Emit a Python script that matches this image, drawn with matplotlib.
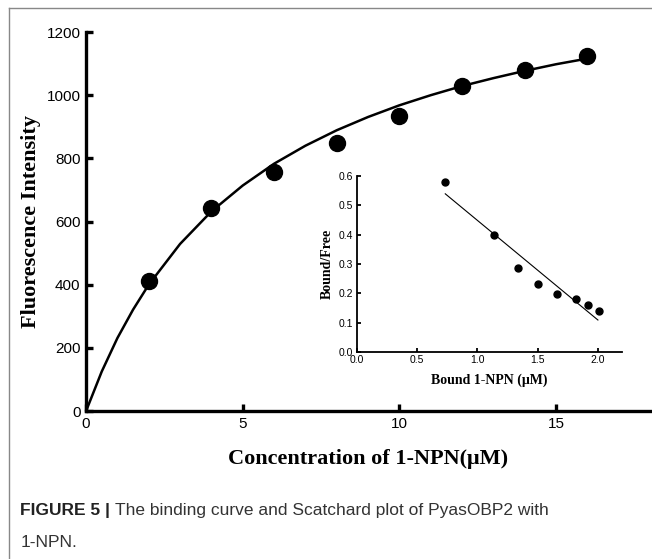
import matplotlib
matplotlib.use("Agg")
import matplotlib.pyplot as plt
from matplotlib.lines import Line2D

# binding curve data (1-NPN concentration, fluorescence)
conc = [2, 4, 6, 8, 10, 12, 14, 16]
fluor = [413, 643, 757, 850, 935, 1030, 1080, 1125]

# fitted saturation curve
fit_x = [0, 0.5, 1, 1.5, 2, 3, 4, 5, 6, 7, 8, 9, 10, 11, 12, 13, 14, 15, 16]
fit_y = [0, 125, 231, 321, 400, 529, 632, 714, 783, 840, 889, 931, 968,
         1000, 1029, 1054, 1077, 1098, 1116]

# Scatchard plot
bound = [0.73, 1.14, 1.34, 1.50, 1.66, 1.82, 1.92, 2.01]
bound_free = [0.58, 0.40, 0.287, 0.232, 0.198, 0.18, 0.16, 0.14]
line_x = [0.733, 2.0]
line_y = [0.539, 0.109]

y_ticks = [0, 200, 400, 600, 800, 1000, 1200]
x_ticks = [0, 5, 10, 15]
in_x_ticks = [0.0, 0.5, 1.0, 1.5, 2.0]
in_y_ticks = [0.0, 0.1, 0.2, 0.3, 0.4, 0.5, 0.6]

sans = "Liberation Sans"
serif = "Liberation Serif"

fig = plt.figure(figsize=(6.52, 5.59), dpi=100)

ax = fig.add_axes([0.132, 0.2647, 0.865, 0.678])
ax.plot(fit_x, fit_y, color="black", lw=1.8, zorder=2)
ax.plot(conc, fluor, "o", color="black", ms=11.5, zorder=3)
ax.set_xlim(0, 18)
ax.set_ylim(0, 1200)
ax.set_xticks(x_ticks)
ax.set_yticks(y_ticks)
for s in ["top", "right"]:
    ax.spines[s].set_visible(False)
for s in ["left", "bottom"]:
    ax.spines[s].set_linewidth(2.4)
ax.tick_params(direction="in", length=5, width=2.4, labelsize=11, pad=4)
for lab in ax.get_xticklabels() + ax.get_yticklabels():
    lab.set_family(sans)
ax.set_xlabel("Concentration of 1-NPN(\u03bcM)", family=serif, weight="bold",
              fontsize=16, labelpad=13)
ax.set_ylabel("Fluorescence Intensity", family=serif, weight="bold",
              fontsize=16, labelpad=4)

# inset
ins = fig.add_axes([0.5475, 0.3703, 0.4065, 0.315])
ins.plot(line_x, line_y, color="black", lw=0.8)
ins.plot(bound, bound_free, "o", color="black", ms=5)
ins.set_xlim(0, 2.2)
ins.set_ylim(0, 0.6)
ins.set_xticks(in_x_ticks)
ins.set_yticks(in_y_ticks)
ins.set_xticklabels([f"{v:.1f}" for v in in_x_ticks], family=sans, fontsize=7.5)
ins.set_yticklabels([f"{v:.1f}" for v in in_y_ticks], family=sans, fontsize=7.5)
for s in ["top", "right"]:
    ins.spines[s].set_visible(False)
for s in ["left", "bottom"]:
    ins.spines[s].set_linewidth(1.3)
ins.tick_params(direction="in", length=3, width=1.3, pad=2.5)
ins.set_xlabel("Bound 1-NPN (\u03bcM)", family=serif, weight="bold",
               fontsize=10, labelpad=6)
ins.set_ylabel("Bound/Free", family=serif, weight="bold", fontsize=10,
               labelpad=4)

# frame lines
fig.add_artist(Line2D([0.0138, 0.0138], [0, 0.9857], color="#888888", lw=1,
                      transform=fig.transFigure))
fig.add_artist(Line2D([0.0138, 1.0], [0.9857, 0.9857], color="#888888", lw=1,
                      transform=fig.transFigure))

# caption: bold label followed by normal text
cap_size = 12.5
t1 = fig.text(0.031, 0.078, "FIGURE 5 |", family=sans, weight="bold",
              fontsize=cap_size, color="#222222", va="baseline")
fig.canvas.draw()
bb = t1.get_window_extent(renderer=fig.canvas.get_renderer())
x2 = bb.x1 / fig.bbox.width + 0.007
fig.text(x2, 0.078, "The binding curve and Scatchard plot of PyasOBP2 with",
         family=sans, fontsize=cap_size, color="#333333", va="baseline")
fig.text(0.031, 0.021, "1-NPN.", family=sans, fontsize=cap_size,
         color="#333333", va="baseline")

fig.savefig("out.png", dpi=100)
